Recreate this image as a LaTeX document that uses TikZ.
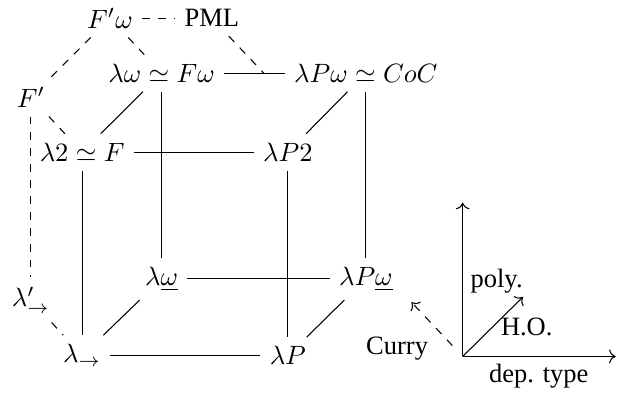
\documentclass[tikz,border=0pt]{standalone}
\usepackage[no-math]{fontspec}
\setmainfont{Liberation Serif}
\usepackage{amsmath,amssymb}
\usepackage{tikz}
\usetikzlibrary{arrows.meta}
\tikzset{
    cubeline/.style={
        line width=0.4pt,
        black
    },
    % 虚线样式
    dashline/.style={
        line width=0.4pt,
        black,
        dashed
    },
    axisarrow/.style={
        line width=0.4pt,
        black,
        ->
    }
}

\begin{document}
\begin{tikzpicture}
	\useasboundingbox (0,0) rectangle (8.40,5.27);
	
	% 节点
	\node (Fpw) at (1.46,5.03) {$F'\omega$};
	\node (pml) at (2.81,5.03) {PML};
	\node (lw) at (2.145,4.30) {$\lambda\omega\simeq F\omega$};
	\node (lpw) at (4.855,4.30) {$\lambda P\omega\simeq CoC$};
	\node (Fp) at (0.41,3.98) {$F'$};
	\node (l2) at (1.09,3.25) {$\lambda2\simeq F$};
	\node (lp2) at (3.82,3.25) {$\lambda P2$};
	\node (lwu) at (2.145,1.57) {$\lambda\underline{\omega}$};
	\node (lpwu) at (4.855,1.57) {$\lambda P\underline{\omega}$};
	\node (lap) at (0.41,1.29) {$\lambda'_{\to}$};
	\node (la) at (1.09,0.55) {$\lambda_{\to}$};
	\node (lP) at (3.82,0.55) {$\lambda P$};
	\node (curry) at (5.27,0.64) {Curry};
	
	\path
	(3.50,4.30) coordinate (pmlend)
	(6.14,0.54) coordinate (O)
	(6.14,2.58) coordinate (up)
	(8.17,0.54) coordinate (right)
	(6.94,1.33) coordinate (diag)
	(5.46,1.26) coordinate (curryend);
	
	% 实线
	\draw[cubeline] (lw) -- (lpw);
	\draw[cubeline] (lw) -- (l2);
	\draw[cubeline] (lw) -- (lwu);
	\draw[cubeline] (lpw) -- (lp2);
	\draw[cubeline] (lpw) -- (lpwu);
	\draw[cubeline] (l2) -- (lp2);
	\draw[cubeline] (l2) -- (la);
	\draw[cubeline] (lp2) -- (lP);
	\draw[cubeline] (lwu) -- (lpwu);
	\draw[cubeline] (lwu) -- (la);
	\draw[cubeline] (lpwu) -- (lP);
	\draw[cubeline] (la) -- (lP);
	
	% 虚线
	\draw[dashline] (Fpw) -- (pml);
	\draw[dashline] (Fpw) -- (Fp);
	\draw[dashline] (Fpw) -- (lw);
	\draw[dashline] (pml) -- (pmlend);
	\draw[dashline] (Fp) -- (l2);
	\draw[dashline] (Fp) -- (lap);
	\draw[dashline] (lap) -- (la);
	
	% 坐标轴
	\draw[axisarrow] (O) -- (up);
	\draw[axisarrow] (O) -- (right);
	\draw[axisarrow] (O) -- (diag);
	\draw[axisarrow,dashed,shorten <=0.2cm] (O) -- (curryend);
	
	% 文字标注
	\node (poly) at (6.59,1.54) {poly.};
	\node (ho) at (6.99,0.93) {H.O.};
	\node (dep) at (7.15,0.28) {dep. type};
\end{tikzpicture}
\end{document}
